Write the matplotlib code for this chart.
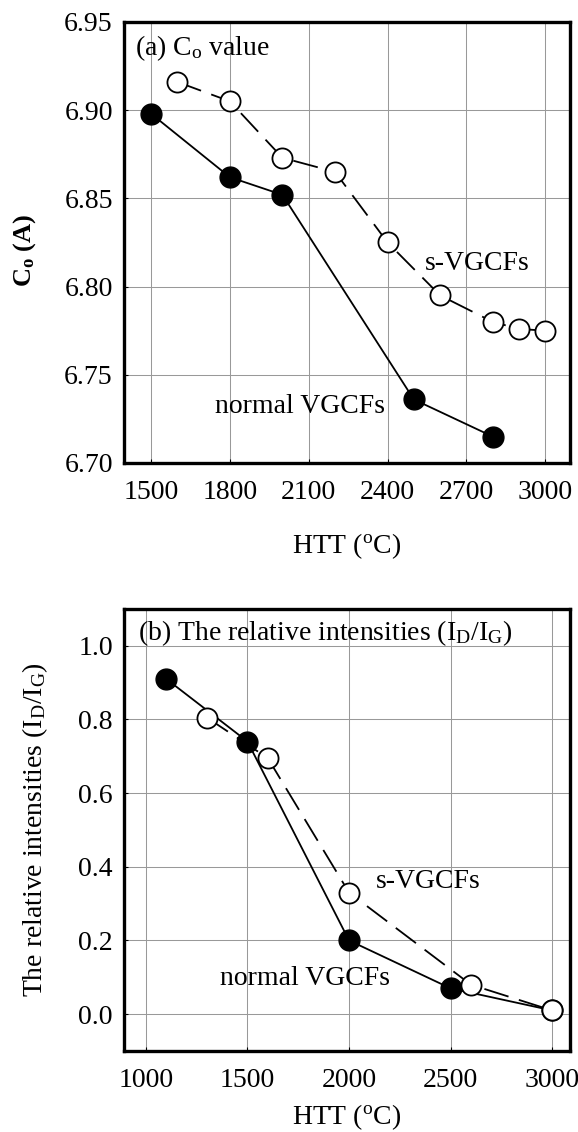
import numpy as np
import matplotlib
matplotlib.use("Agg")
import matplotlib.pyplot as plt

plt.rcParams['font.family'] = ['Liberation Serif', 'DejaVu Serif']
plt.rcParams['mathtext.fontset'] = 'custom'
plt.rcParams['mathtext.rm'] = 'Liberation Serif'
plt.rcParams['mathtext.it'] = 'Liberation Serif:italic'
plt.rcParams['mathtext.bf'] = 'Liberation Serif:bold'

# (a) interlayer Co value vs heat treatment temperature
htt_normal_a = [1500, 1800, 2000, 2500, 2800]
co_normal = [6.898, 6.862, 6.852, 6.736, 6.715]
htt_s_a = [1600, 1800, 2000, 2200, 2400, 2600, 2800, 2900, 3000]
co_s = [6.916, 6.905, 6.873, 6.865, 6.825, 6.795, 6.780, 6.776, 6.775]

# (b) Raman ID/IG ratio
htt_normal_b = [1100, 1500, 2000, 2500, 3000]
ratio_normal = [0.91, 0.74, 0.20, 0.07, 0.01]
htt_s_b = [1300, 1600, 2000, 2600, 3000]
ratio_s = [0.805, 0.695, 0.33, 0.08, 0.01]

xticks_a = [1500, 1800, 2100, 2400, 2700, 3000]
yticks_a = [6.70, 6.75, 6.80, 6.85, 6.90, 6.95]
xticks_b = [1000, 1500, 2000, 2500, 3000]
yticks_b = [0.0, 0.2, 0.4, 0.6, 0.8, 1.0]

FS = 20

fig = plt.figure(figsize=(5.78, 11.32), dpi=100)
ax1 = fig.add_axes([0.2145, 0.591, 0.772, 0.3896])
ax2 = fig.add_axes([0.2145, 0.0716, 0.772, 0.3905])


def style(ax):
    ax.grid(True, color='#999999', lw=0.75)
    ax.set_axisbelow(True)
    for s in ax.spines.values():
        s.set_linewidth(2.4)
    ax.tick_params(direction='in', length=3, width=0.8, labelsize=FS)
    ax.tick_params(axis='x', pad=12)
    ax.tick_params(axis='y', pad=8)


def draw(ax, xn, yn, xs, ys):
    ax.plot(xn, yn, '-', color='black', lw=1.3, marker='o', ms=15,
            mfc='black', mec='black', zorder=3)
    ax.plot(xs, ys, color='black', lw=1.3, dashes=(14, 6), marker='o', ms=14.5,
            mfc='white', mec='black', mew=1.3, zorder=4)


# panel (a)
style(ax1)
draw(ax1, htt_normal_a, co_normal, htt_s_a, co_s)
ax1.set_xlim(1397, 3095)
ax1.set_ylim(6.70, 6.95)
ax1.set_xticks(xticks_a)
ax1.set_yticks(yticks_a)
ax1.set_yticklabels([f"{v:.2f}" for v in yticks_a])
ax1.set_xlabel(r"HTT ($^{\mathregular{o}}$C)", fontsize=FS)
ax1.xaxis.set_label_coords(0.5, -0.155)
ax1.set_ylabel(r"C$_{\mathregular{o}}$ (A)", fontsize=19, fontweight='bold')
ax1.yaxis.set_label_coords(-0.193, 0.483)
ax1.text(1438, 6.935, r"(a) C$_{\mathregular{o}}$ value", fontsize=FS, va='center')
ax1.text(2543, 6.813, "s-VGCFs", fontsize=FS, va='center')
ax1.text(1743, 6.732, "normal VGCFs", fontsize=FS, va='center')

# panel (b)
style(ax2)
draw(ax2, htt_normal_b, ratio_normal, htt_s_b, ratio_s)
ax2.set_xlim(892, 3089)
ax2.set_ylim(-0.1, 1.1)
ax2.set_xticks(xticks_b)
ax2.set_yticks(yticks_b)
ax2.set_yticklabels([f"{v:.1f}" for v in yticks_b])
ax2.set_xlabel(r"HTT ($^{\mathregular{o}}$C)", fontsize=FS)
ax2.xaxis.set_label_coords(0.5, -0.115)
ax2.set_ylabel(r"The relative intensities (I$_{\mathregular{D}}$/I$_{\mathregular{G}}$)", fontsize=FS)
ax2.yaxis.set_label_coords(-0.165, 0.5)
ax2.text(960, 1.035, r"(b) The relative intensities (I$_{\mathregular{D}}$/I$_{\mathregular{G}}$)",
         fontsize=FS, va='center')
ax2.text(2133, 0.359, "s-VGCFs", fontsize=FS, va='center')
ax2.text(1364, 0.098, "normal VGCFs", fontsize=FS, va='center')

fig.savefig("out.png", dpi=100)
